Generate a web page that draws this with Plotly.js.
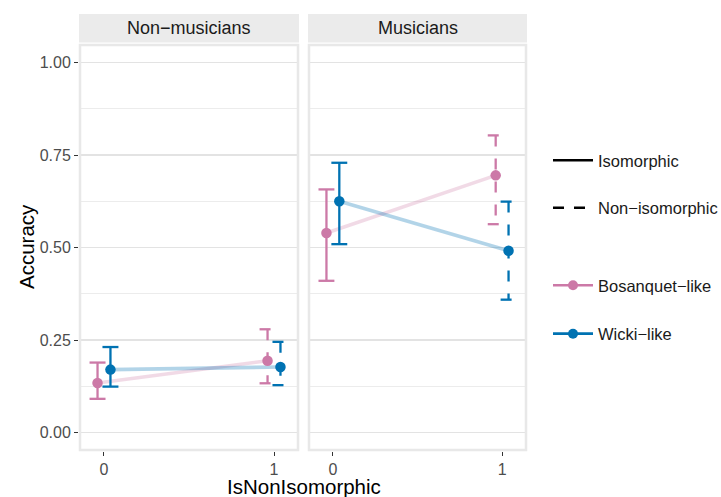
<!DOCTYPE html>
<html>
<head>
<meta charset="utf-8">
<script src="https://cdn.plot.ly/plotly-3.0.1.min.js"></script>
<style>html,body{margin:0;padding:0;background:#fff;}#chart{width:721px;height:497px;}</style>
</head>
<body>
<div id="chart"></div>
<script>
// ---- data ----
const panels = ['Non\u2212musicians', 'Musicians'];
const xLevels = [0, 1];
const xTickLabels = ['0', '1'];
const linetypeNames = ['Isomorphic', 'Non\u2212isomorphic'];
const seriesNames = ['Bosanquet\u2212like', 'Wicki\u2212like'];

// Bosanquet-like: [panel][level]
const bosanquetMean = [[0.134, 0.194], [0.539, 0.695]];
const bosanquetLow  = [[0.091, 0.133], [0.410, 0.563]];
const bosanquetHigh = [[0.189, 0.279], [0.657, 0.803]];
// Wicki-like
const wickiMean = [[0.170, 0.177], [0.625, 0.491]];
const wickiLow  = [[0.124, 0.128], [0.509, 0.359]];
const wickiHigh = [[0.231, 0.245], [0.729, 0.624]];

const yTicks = [0, 0.25, 0.5, 0.75, 1];
const yTickLabels = ['0.00', '0.25', '0.50', '0.75', '1.00'];

// ---- styles ----
const colors = ['#CC79A7', '#0072B2'];
const fadedColors = ['rgba(204,121,167,0.28)', 'rgba(0,114,178,0.3)'];
const dodge = [-0.038, 0.038];
const capHalf = 0.047;
const dashes = ['solid', '11px,12px'];
const FONT = 'Liberation Sans, Arial, Helvetica, sans-serif';

const series = [
  {mean: bosanquetMean, low: bosanquetLow, high: bosanquetHigh},
  {mean: wickiMean, low: wickiLow, high: wickiHigh}
];

const traces = [];
panels.forEach((p, pi) => {
  const xa = pi === 0 ? 'x' : 'x2';
  const ya = pi === 0 ? 'y' : 'y2';
  series.forEach((s, si) => {
    traces.push({
      type: 'scatter', mode: 'lines', xaxis: xa, yaxis: ya, showlegend: false, hoverinfo: 'skip',
      x: xLevels.map(v => v + dodge[si]), y: s.mean[pi],
      line: {color: fadedColors[si], width: 3.6}
    });
  });
  series.forEach((s, si) => {
    xLevels.forEach((lv, li) => {
      const xc = lv + dodge[si];
      const lo = s.low[pi][li], hi = s.high[pi][li];
      traces.push({
        type: 'scatter', mode: 'lines', xaxis: xa, yaxis: ya, showlegend: false, hoverinfo: 'skip',
        x: [xc - capHalf, xc + capHalf, null, xc, xc, null, xc - capHalf, xc + capHalf],
        y: [hi, hi, null, hi, lo, null, lo, lo],
        connectgaps: false,
        line: {color: colors[si], width: 2.3, dash: dashes[li]}
      });
    });
  });
  series.forEach((s, si) => {
    traces.push({
      type: 'scatter', mode: 'markers', xaxis: xa, yaxis: ya, showlegend: false,
      x: xLevels.map(v => v + dodge[si]), y: s.mean[pi],
      marker: {color: colors[si], size: 10.5}
    });
  });
});

// legend entries
linetypeNames.forEach((n, i) => {
  traces.push({
    type: 'scatter', mode: 'lines', x: [null], y: [null], name: n, legend: 'legend',
    legendgroup: 'lt' + i, line: {color: '#000', width: 2.4, dash: i === 0 ? 'solid' : '11px,10px'}
  });
});
seriesNames.forEach((n, i) => {
  traces.push({
    type: 'scatter', mode: 'lines+markers', x: [null], y: [null], name: n, legend: 'legend2',
    legendgroup: 'sr' + i, line: {color: colors[i], width: 2.6}, marker: {color: colors[i], size: 10}
  });
});

const W = 721, H = 497;
const px = v => v / W, py = v => 1 - v / H;
const panelX = [[79, 299], [308, 527]];
const panelY = [44, 451];

const xRange = [-0.147, 1.147];
const yRange = [-0.05, 1.05];

function xAxis(pi) {
  return {
    domain: [px(panelX[pi][0]), px(panelX[pi][1])], range: xRange, anchor: pi === 0 ? 'y' : 'y2',
    tickvals: xLevels, ticktext: xTickLabels, showgrid: false, zeroline: false, showline: false,
    ticks: 'outside', ticklen: 4, tickwidth: 1, tickcolor: '#333',
    tickfont: {family: FONT, size: 16, color: '#4d4d4d'}
  };
}
function yAxis(pi) {
  return {
    domain: [py(panelY[1]), py(panelY[0])], range: yRange, anchor: pi === 0 ? 'x' : 'x2',
    tickvals: yTicks, ticktext: yTickLabels, showticklabels: pi === 0,
    showgrid: true, gridcolor: '#e3e3e3', gridwidth: 1.2, zeroline: false, showline: false,
    ticks: pi === 0 ? 'outside' : '', ticklen: 4, tickwidth: 1, tickcolor: '#333',
    tickfont: {family: FONT, size: 16, color: '#4d4d4d'},
    minor: {tickvals: [0.125, 0.375, 0.625, 0.875], showgrid: true, gridcolor: '#ececec', gridwidth: 1, ticks: ''}
  };
}

const shapes = [];
const annotations = [];
panels.forEach((p, pi) => {
  shapes.push({type: 'rect', xref: 'paper', yref: 'paper', layer: 'below',
    x0: px(panelX[pi][0]), x1: px(panelX[pi][1]), y0: py(42.5), y1: py(14),
    fillcolor: '#ebebeb', line: {width: 0}});
  shapes.push({type: 'rect', xref: 'paper', yref: 'paper', layer: 'above',
    x0: px(panelX[pi][0] + 1), x1: px(panelX[pi][1] - 1), y0: py(panelY[1] - 1), y1: py(panelY[0] + 1),
    fillcolor: 'rgba(0,0,0,0)', line: {width: 2.5, color: '#e8e8e8'}});
  annotations.push({xref: 'paper', yref: 'paper', x: px((panelX[pi][0] + panelX[pi][1]) / 2), y: py(28.5),
    text: p, showarrow: false, xanchor: 'center', yanchor: 'middle',
    font: {family: FONT, size: 18, color: '#1a1a1a'}});
});
annotations.push({xref: 'paper', yref: 'paper', x: px(304), y: py(486), text: 'IsNonIsomorphic',
  showarrow: false, xanchor: 'center', yanchor: 'middle', font: {family: FONT, size: 20.5, color: '#000'}});
annotations.push({xref: 'paper', yref: 'paper', x: px(26), y: py(247), text: 'Accuracy', textangle: -90,
  showarrow: false, xanchor: 'center', yanchor: 'middle', font: {family: FONT, size: 20.5, color: '#000'}});

const layout = {
  width: W, height: H, margin: {l: 0, r: 0, t: 0, b: 0, autoexpand: false},
  paper_bgcolor: '#fff', plot_bgcolor: '#fff',
  xaxis: xAxis(0), xaxis2: xAxis(1), yaxis: yAxis(0), yaxis2: yAxis(1),
  shapes: shapes, annotations: annotations,
  legend: {x: px(548), y: py(143), xanchor: 'left', yanchor: 'top', traceorder: 'grouped', tracegroupgap: 23,
    bgcolor: 'rgba(0,0,0,0)', font: {family: FONT, size: 16.5, color: '#1a1a1a'}, itemwidth: 40},
  legend2: {x: px(548), y: py(268), xanchor: 'left', yanchor: 'top', traceorder: 'grouped', tracegroupgap: 24,
    bgcolor: 'rgba(0,0,0,0)', font: {family: FONT, size: 16.5, color: '#1a1a1a'}, itemwidth: 40},
  showlegend: true
};

Plotly.newPlot('chart', traces, layout, {displayModeBar: false, staticPlot: true});
</script>
</body>
</html>
